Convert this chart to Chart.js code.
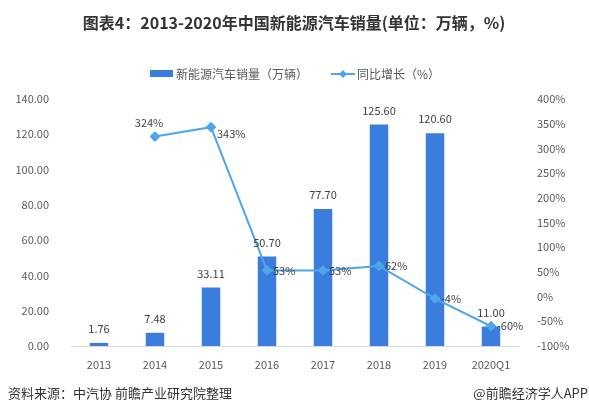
<!DOCTYPE html>
<html>
<head>
<meta charset="utf-8">
<script src="https://cdn.jsdelivr.net/npm/chart.js@4.4.0/dist/chart.umd.min.js"></script>
<style>
  html, body { margin: 0; padding: 0; background: #ffffff; }
  #wrap { width: 589px; height: 414px; position: relative; }
</style>
</head>
<body>
<div id="wrap"><canvas id="salesChart" width="589" height="414"></canvas></div>
<script>
// 数据
const categories = ['2013', '2014', '2015', '2016', '2017', '2018', '2019', '2020Q1'];
const salesValues = [1.76, 7.48, 33.11, 50.70, 77.70, 125.60, 120.60, 11.00];
const growthValues = [null, 324, 343, 53, 53, 62, -4, -60];
const leftTicks = [0, 20, 40, 60, 80, 100, 120, 140];
const rightTicks = [-100, -50, 0, 50, 100, 150, 200, 250, 300, 350, 400];

const titleText = '图表4：2013-2020年中国新能源汽车销量(单位：万辆，%)';
const sourceText = '资料来源：中汽协 前瞻产业研究院整理';
const brandText = '@前瞻经济学人APP';

const colors = {
  bar: '#3b7ddd',
  line: '#4ea5ea',
  text: '#404040',
  axis: '#595959',
  baseline: '#d9d9d9'
};
const FONT = '"Noto Sans CJK SC", "Microsoft YaHei", sans-serif';

// 标签位置（折线）
const growthLabelPos = ['right', 'top', 'right', 'right', 'right', 'right', 'right', 'right'];

// 标题、图例、数据标签、页脚
const decorPlugin = {
  id: 'decor',
  afterDraw(chart) {
    const ctx = chart.ctx;
    ctx.save();

    // 标题
    ctx.fillStyle = '#333333';
    ctx.font = 'bold 16px ' + FONT;
    ctx.textAlign = 'center';
    ctx.textBaseline = 'middle';
    ctx.fillText(titleText, 294, 23);

    // 图例
    ctx.font = '12px ' + FONT;
    ctx.textAlign = 'left';
    ctx.fillStyle = colors.bar;
    ctx.fillRect(150, 70, 23, 7);
    ctx.fillStyle = colors.axis;
    ctx.fillText('新能源汽车销量（万辆）', 176, 74);
    ctx.strokeStyle = colors.line;
    ctx.lineWidth = 2;
    ctx.beginPath();
    ctx.moveTo(331, 74);
    ctx.lineTo(355, 74);
    ctx.stroke();
    ctx.fillStyle = colors.line;
    ctx.beginPath();
    ctx.moveTo(343, 70); ctx.lineTo(347, 74); ctx.lineTo(343, 78); ctx.lineTo(339, 74);
    ctx.closePath();
    ctx.fill();
    ctx.fillStyle = colors.axis;
    ctx.fillText('同比增长（%）', 357, 74);

    // 柱子数据标签
    ctx.font = '11px ' + FONT;
    ctx.fillStyle = colors.text;
    ctx.textAlign = 'center';
    ctx.textBaseline = 'middle';
    chart.getDatasetMeta(1).data.forEach((bar, i) => {
      ctx.fillText(salesValues[i].toFixed(2), bar.x, bar.y - 14);
    });

    // 折线数据标签
    chart.getDatasetMeta(0).data.forEach((pt, i) => {
      if (growthValues[i] === null) return;
      const txt = growthValues[i] + '%';
      if (growthLabelPos[i] === 'top') {
        ctx.textAlign = 'center';
        ctx.textBaseline = 'bottom';
        ctx.fillText(txt, pt.x - 6, pt.y - 8);
      } else {
        ctx.textAlign = 'left';
        ctx.textBaseline = 'middle';
        ctx.fillText(txt, pt.x + 6, pt.y + (i === 2 ? 7 : 0));
      }
    });

    // 页脚
    ctx.font = '13px ' + FONT;
    ctx.fillStyle = '#333333';
    ctx.textAlign = 'left';
    ctx.textBaseline = 'middle';
    ctx.fillText(sourceText, 8, 393);
    ctx.textAlign = 'right';
    ctx.fillText(brandText, 588, 393);

    ctx.restore();
  }
};

const ctx = document.getElementById('salesChart').getContext('2d');
new Chart(ctx, {
  data: {
    labels: categories,
    datasets: [
      {
        type: 'line',
        label: '同比增长（%）',
        data: growthValues,
        yAxisID: 'y1',
        borderColor: colors.line,
        backgroundColor: colors.line,
        borderWidth: 2,
        pointStyle: 'rectRot',
        pointRadius: 4,
        pointHoverRadius: 4,
        tension: 0,
        order: 0
      },
      {
        type: 'bar',
        label: '新能源汽车销量（万辆）',
        data: salesValues,
        yAxisID: 'y',
        backgroundColor: colors.bar,
        categoryPercentage: 1,
        barPercentage: 0.33,
        order: 1
      }
    ]
  },
  options: {
    responsive: false,
    animation: false,
    devicePixelRatio: 1,
    layout: { padding: { top: 99, bottom: 38, left: 0, right: 0 } },
    plugins: {
      legend: { display: false },
      title: { display: false },
      tooltip: { enabled: false }
    },
    scales: {
      x: {
        grid: { display: false },
        border: { color: colors.baseline, width: 1 },
        ticks: {
          color: colors.axis,
          font: { family: FONT, size: 11 },
          maxRotation: 0,
          padding: 4
        },
        afterFit(scale) { scale.height = 30; }
      },
      y: {
        position: 'left',
        min: 0,
        max: 140,
        afterBuildTicks(scale) { scale.ticks = leftTicks.map(v => ({ value: v })); },
        grid: { display: false },
        border: { display: false },
        ticks: {
          color: colors.axis,
          font: { family: FONT, size: 11 },
          padding: 14,
          callback: v => v.toFixed(2)
        },
        afterFit(scale) { scale.width = 71; }
      },
      y1: {
        position: 'right',
        min: -100,
        max: 400,
        afterBuildTicks(scale) { scale.ticks = rightTicks.map(v => ({ value: v })); },
        grid: { display: false },
        border: { display: false },
        ticks: {
          color: colors.axis,
          font: { family: FONT, size: 11 },
          padding: 10,
          callback: v => v + '%'
        },
        afterFit(scale) { scale.width = 70; }
      }
    }
  },
  plugins: [decorPlugin]
});
</script>
</body>
</html>
